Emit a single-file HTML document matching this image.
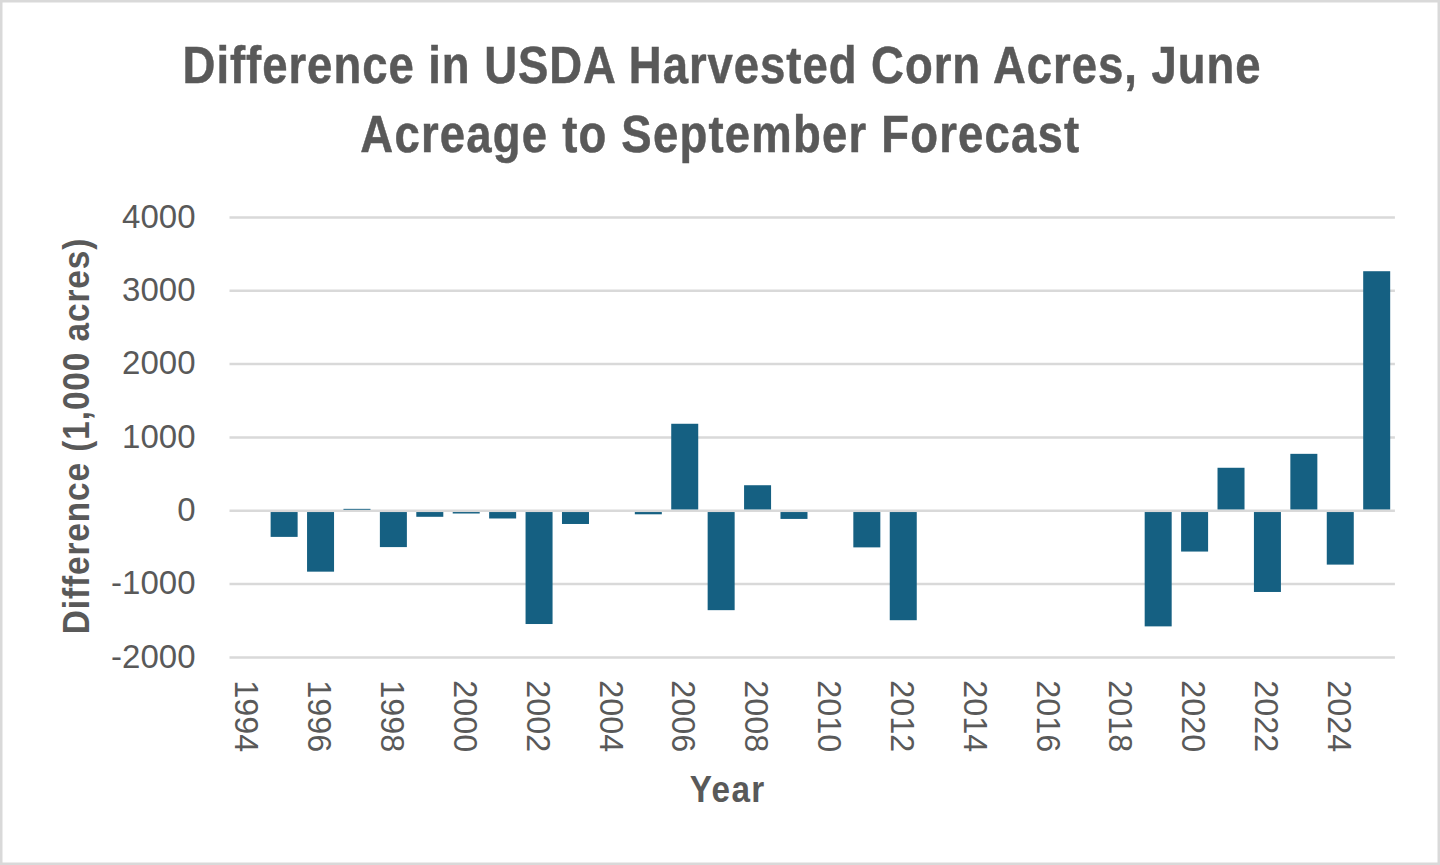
<!DOCTYPE html>
<html><head><meta charset="utf-8"><style>
html,body{margin:0;padding:0;background:#fff;}
body{width:1440px;height:865px;overflow:hidden;position:relative;}
svg{position:absolute;left:0;top:0;}
.tk{font-family:"Liberation Sans",sans-serif;font-size:33px;fill:#595959;}
.ttl{font-family:"Liberation Sans",sans-serif;font-weight:bold;font-size:52px;fill:#595959;stroke:#595959;stroke-width:0.5px;}
.ax{font-family:"Liberation Sans",sans-serif;font-weight:bold;font-size:37px;fill:#595959;}
</style></head><body>
<svg width="1440" height="865" viewBox="0 0 1440 865">
<rect x="0" y="0" width="1440" height="865" fill="#fff"/>
<rect x="1.25" y="1.25" width="1437.5" height="862.5" fill="none" stroke="#d9d9d9" stroke-width="2.5"/>
<g transform="translate(722.0,83.1) scale(0.875,1)"><text x="0" y="0" text-anchor="middle" class="ttl" style="letter-spacing:1.1px">Difference in USDA Harvested Corn Acres, June</text></g>
<g transform="translate(720.4,151.9) scale(0.875,1)"><text x="0" y="0" text-anchor="middle" class="ttl" style="letter-spacing:1.38px">Acreage to September Forecast</text></g>
<g transform="translate(89.1,436.0) rotate(-90) scale(0.9,1)"><text x="0" y="0" text-anchor="middle" class="ax" style="letter-spacing:1.05px">Difference (1,000 acres)</text></g>
<g transform="translate(727.7,802.1) scale(0.9,1)"><text x="0" y="0" text-anchor="middle" class="ax" style="letter-spacing:1.6px">Year</text></g>
<line x1="229.5" y1="657.43" x2="1394.9" y2="657.43" stroke="#d9d9d9" stroke-width="2.5"/>
<line x1="229.5" y1="584.09" x2="1394.9" y2="584.09" stroke="#d9d9d9" stroke-width="2.5"/>
<line x1="229.5" y1="510.75" x2="1394.9" y2="510.75" stroke="#d9d9d9" stroke-width="2.5"/>
<line x1="229.5" y1="437.41" x2="1394.9" y2="437.41" stroke="#d9d9d9" stroke-width="2.5"/>
<line x1="229.5" y1="364.07" x2="1394.9" y2="364.07" stroke="#d9d9d9" stroke-width="2.5"/>
<line x1="229.5" y1="290.73" x2="1394.9" y2="290.73" stroke="#d9d9d9" stroke-width="2.5"/>
<line x1="229.5" y1="217.39" x2="1394.9" y2="217.39" stroke="#d9d9d9" stroke-width="2.5"/>
<rect x="270.63" y="512.05" width="27.0" height="24.84" fill="#156082"/>
<rect x="307.05" y="512.05" width="27.0" height="59.61" fill="#156082"/>
<rect x="343.47" y="508.85" width="27.0" height="0.90" fill="#156082"/>
<rect x="379.88" y="512.05" width="27.0" height="35.04" fill="#156082"/>
<rect x="416.30" y="512.05" width="27.0" height="4.75" fill="#156082"/>
<rect x="452.72" y="512.05" width="27.0" height="1.45" fill="#156082"/>
<rect x="489.14" y="512.05" width="27.0" height="6.43" fill="#156082"/>
<rect x="525.56" y="512.05" width="27.0" height="111.97" fill="#156082"/>
<rect x="561.98" y="512.05" width="27.0" height="11.93" fill="#156082"/>
<rect x="634.82" y="512.05" width="27.0" height="2.25" fill="#156082"/>
<rect x="671.23" y="423.77" width="27.0" height="85.68" fill="#156082"/>
<rect x="707.65" y="512.05" width="27.0" height="98.11" fill="#156082"/>
<rect x="744.07" y="485.23" width="27.0" height="24.22" fill="#156082"/>
<rect x="780.49" y="512.05" width="27.0" height="6.87" fill="#156082"/>
<rect x="853.33" y="512.05" width="27.0" height="35.33" fill="#156082"/>
<rect x="889.75" y="512.05" width="27.0" height="108.16" fill="#156082"/>
<rect x="1144.68" y="512.05" width="27.0" height="114.32" fill="#156082"/>
<rect x="1181.10" y="512.05" width="27.0" height="39.51" fill="#156082"/>
<rect x="1217.52" y="467.77" width="27.0" height="41.68" fill="#156082"/>
<rect x="1253.93" y="512.05" width="27.0" height="79.92" fill="#156082"/>
<rect x="1290.35" y="453.84" width="27.0" height="55.61" fill="#156082"/>
<rect x="1326.77" y="512.05" width="27.0" height="52.56" fill="#156082"/>
<rect x="1363.19" y="271.22" width="27.0" height="238.23" fill="#156082"/>
<text x="195.5" y="667.83" text-anchor="end" class="tk">-2000</text>
<text x="195.5" y="594.49" text-anchor="end" class="tk">-1000</text>
<text x="195.5" y="521.15" text-anchor="end" class="tk">0</text>
<text x="195.5" y="447.81" text-anchor="end" class="tk">1000</text>
<text x="195.5" y="374.47" text-anchor="end" class="tk">2000</text>
<text x="195.5" y="301.13" text-anchor="end" class="tk">3000</text>
<text x="195.5" y="227.79" text-anchor="end" class="tk">4000</text>
<text transform="translate(235.31,680.2) rotate(90) scale(0.98,1)" class="tk">1994</text>
<text transform="translate(308.15,680.2) rotate(90) scale(0.98,1)" class="tk">1996</text>
<text transform="translate(380.98,680.2) rotate(90) scale(0.98,1)" class="tk">1998</text>
<text transform="translate(453.82,680.2) rotate(90) scale(0.98,1)" class="tk">2000</text>
<text transform="translate(526.66,680.2) rotate(90) scale(0.98,1)" class="tk">2002</text>
<text transform="translate(599.50,680.2) rotate(90) scale(0.98,1)" class="tk">2004</text>
<text transform="translate(672.33,680.2) rotate(90) scale(0.98,1)" class="tk">2006</text>
<text transform="translate(745.17,680.2) rotate(90) scale(0.98,1)" class="tk">2008</text>
<text transform="translate(818.01,680.2) rotate(90) scale(0.98,1)" class="tk">2010</text>
<text transform="translate(890.85,680.2) rotate(90) scale(0.98,1)" class="tk">2012</text>
<text transform="translate(963.68,680.2) rotate(90) scale(0.98,1)" class="tk">2014</text>
<text transform="translate(1036.52,680.2) rotate(90) scale(0.98,1)" class="tk">2016</text>
<text transform="translate(1109.36,680.2) rotate(90) scale(0.98,1)" class="tk">2018</text>
<text transform="translate(1182.20,680.2) rotate(90) scale(0.98,1)" class="tk">2020</text>
<text transform="translate(1255.03,680.2) rotate(90) scale(0.98,1)" class="tk">2022</text>
<text transform="translate(1327.87,680.2) rotate(90) scale(0.98,1)" class="tk">2024</text>
</svg>
</body></html>
